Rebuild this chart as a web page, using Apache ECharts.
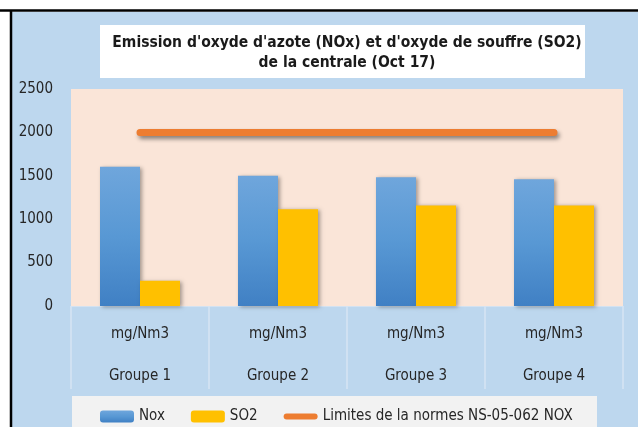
<!DOCTYPE html>
<html>
<head>
<meta charset="utf-8">
<script src="https://cdn.jsdelivr.net/npm/echarts@6/dist/echarts.min.js"></script>
<style>
  html, body { margin: 0; padding: 0; background: #fff; }
  #chart { width: 638px; height: 427px; }
</style>
</head>
<body>
<div id="chart"></div>
<script>
const groupes = ["Groupe 1", "Groupe 2", "Groupe 3", "Groupe 4"];
const unite = "mg/Nm3";
const nox = [1605, 1500, 1483, 1460];
const so2 = [290, 1116, 1158, 1158];
const limiteNox = [2000, 2000, 2000, 2000];
const yTicks = [0, 500, 1000, 1500, 2000, 2500];

const police = "'Liberation Sans Narrow', 'DejaVu Sans Condensed', sans-serif";
const chart = echarts.init(document.getElementById("chart"));

// fond bleu + bordure noire + cadre du titre + cadre de la légende
const decor = [
  { type: "rect", shape: { x: 12, y: 12, width: 626, height: 415 }, style: { fill: "#BDD7EE" }, z: -10 },
  { type: "line", shape: { x1: 0, y1: 10.5, x2: 638, y2: 10.5 }, style: { stroke: "#000", lineWidth: 2.5 }, z: -9 },
  { type: "line", shape: { x1: 11, y1: 10, x2: 11, y2: 427 }, style: { stroke: "#000", lineWidth: 2.5 }, z: -9 },
  { type: "rect", shape: { x: 100, y: 25, width: 485, height: 53 }, style: { fill: "#fff" }, z: -8 },
  { type: "rect", shape: { x: 72, y: 396, width: 525, height: 40 }, style: { fill: "#F2F2F2" }, z: -8 }
];

// icône de légende : barre arrondie fine dans une boîte 34x12
const iconeLigne = "path://M0,0M34,12M3,3L31,3Q34,3 34,6Q34,9 31,9L3,9Q0,9 0,6Q0,3 3,3Z";

const option = {
  animation: false,
  graphic: decor,
  title: {
    text: "Emission d'oxyde d'azote (NOx) et d'oxyde de souffre (SO2)\nde la centrale (Oct 17)",
    left: 342,
    top: 28,
    textAlign: "center",
    textStyle: { fontFamily: "'DejaVu Sans Condensed', sans-serif", fontSize: 15.5, fontWeight: "bold", color: "#1a1a1a", lineHeight: 20 }
  },
  legend: {
    left: 95,
    top: 404,
    itemWidth: 34,
    itemHeight: 12,
    itemGap: 26,
    textStyle: { fontFamily: police, fontSize: 15, color: "#262626" },
    data: [
      { name: "Nox" },
      { name: "SO2" },
      { name: "Limites de la normes NS-05-062 NOX", icon: iconeLigne, itemStyle: { color: "#ED7D31" } }
    ]
  },
  grid: { left: 71, right: 15, top: 89, bottom: 121, backgroundColor: "#FAE5D8", show: true, borderWidth: 0 },
  xAxis: {
    type: "category",
    data: groupes,
    axisLine: { show: true, lineStyle: { color: "#D3E2F1", width: 1 } },
    axisTick: { show: true, length: 83, lineStyle: { color: "#D6E5F3", width: 1.5 } },
    axisLabel: {
      margin: 7,
      fontFamily: police,
      fontSize: 15,
      color: "#262626",
      lineHeight: 42,
      formatter: (v) => unite + "\n" + v
    }
  },
  yAxis: {
    type: "value",
    min: yTicks[0],
    max: yTicks[yTicks.length - 1],
    interval: 500,
    axisLine: { show: false },
    axisTick: { show: false },
    splitLine: { show: false },
    axisLabel: { margin: 18, fontFamily: police, fontSize: 15, color: "#262626", formatter: (v) => String(v) }
  },
  series: [
    {
      name: "Nox",
      type: "bar",
      data: nox,
      barWidth: 40,
      barGap: "0%",
      itemStyle: {
        color: new echarts.graphic.LinearGradient(0, 0, 0, 1, [
          { offset: 0, color: "#6FA6DC" },
          { offset: 0.5, color: "#5898D4" },
          { offset: 1, color: "#4080C4" }
        ]),
        shadowBlur: 4,
        shadowColor: "rgba(0,0,0,0.35)",
        shadowOffsetX: 2,
        shadowOffsetY: 1
      }
    },
    {
      name: "SO2",
      type: "bar",
      data: so2,
      barWidth: 40,
      itemStyle: {
        color: "#FFC000",
        shadowBlur: 4,
        shadowColor: "rgba(0,0,0,0.35)",
        shadowOffsetX: 2,
        shadowOffsetY: 1
      }
    },
    {
      name: "Limites de la normes NS-05-062 NOX",
      type: "line",
      data: limiteNox,
      symbol: "none",
      itemStyle: { color: "#ED7D31" },
      lineStyle: {
        color: "#ED7D31",
        width: 7,
        cap: "round",
        shadowBlur: 4,
        shadowColor: "rgba(0,0,0,0.45)",
        shadowOffsetX: 2,
        shadowOffsetY: 3
      }
    }
  ]
};

chart.setOption(option);
</script>
</body>
</html>
